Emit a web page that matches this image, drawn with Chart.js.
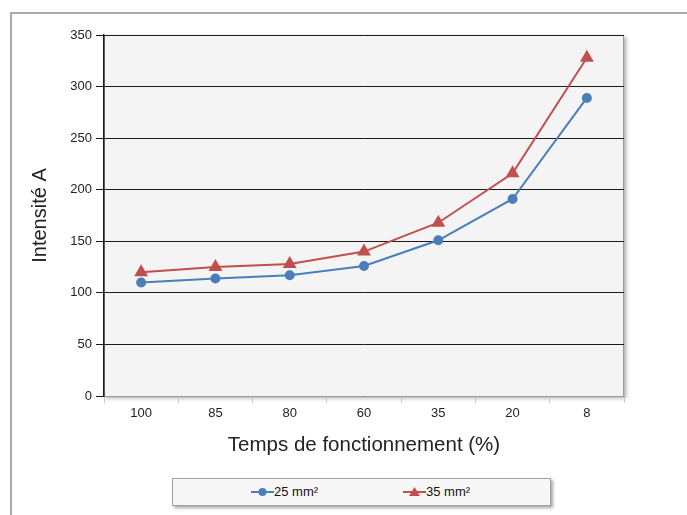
<!DOCTYPE html>
<html>
<head>
<meta charset="utf-8">
<script src="https://cdn.jsdelivr.net/npm/chart.js@4/dist/chart.umd.min.js"></script>
<style>
  html, body { margin: 0; padding: 0; background: #fff; }
  body { width: 687px; height: 515px; position: relative; overflow: hidden;
         font-family: "Liberation Sans", Arial, sans-serif; }
  #frame { position: absolute; left: 10px; top: 12px; width: 700px; height: 520px;
           border-left: 2px solid #a9a9a9; border-top: 2px solid #a9a9a9; }
  #wrap { position: absolute; left: 0; top: 0; width: 687px; height: 462px; }
  #legend { position: absolute; left: 172px; top: 478px; width: 377px; height: 26px;
            border: 1px solid #a0a0a0; background: #f7f7f7;
            box-shadow: 2px 2px 3px rgba(0,0,0,0.35); }
  .item { position: absolute; top: 5px; font-size: 13px; color: #111; line-height: 16px; }
  .item svg { vertical-align: -2px; }
</style>
</head>
<body>
<div id="frame"></div>
<div id="wrap"><canvas id="myChart"></canvas></div>
<div id="legend">
  <span class="item" style="left:78px"><svg width="23" height="12"><line x1="0" y1="6" x2="23" y2="6" stroke="#4a7ebb" stroke-width="2"/><circle cx="11.5" cy="6" r="4" fill="#4a7ebb"/></svg>25 mm²</span>
  <span class="item" style="left:230px"><svg width="23" height="12"><line x1="0" y1="6" x2="23" y2="6" stroke="#c0504d" stroke-width="2"/><polygon points="11.5,1 17,10 6,10" fill="#c0504d"/></svg>35 mm²</span>
</div>
<script>
const categories = ['100', '85', '80', '60', '35', '20', '8'];
const section25 = [110, 114, 117, 126, 151, 191, 289];
const section35 = [120, 125, 128, 140, 168, 216, 328];

// grey plot area with a soft shadow, like the spreadsheet original
const plotBackground = {
    id: 'plotBackground',
    beforeDraw(chart) {
        const { ctx, chartArea: a } = chart;
        ctx.save();
        ctx.shadowColor = 'rgba(0,0,0,0.35)';
        ctx.shadowBlur = 4;
        ctx.shadowOffsetX = 2;
        ctx.shadowOffsetY = 2;
        ctx.fillStyle = '#f4f4f4';
        ctx.fillRect(a.left, a.top, a.right - a.left, a.bottom - a.top);
        ctx.restore();
        ctx.save();
        ctx.strokeStyle = '#9a9a9a';
        ctx.lineWidth = 1;
        ctx.strokeRect(a.left + 0.5, a.top + 0.5, a.right - a.left - 1, a.bottom - a.top);
        ctx.restore();
    }
};

function setup() {
    const ctx = document.getElementById('myChart').getContext('2d');
    new Chart(ctx, {
        type: 'line',
        data: {
            labels: categories,
            datasets: [
                {
                    label: '25 mm²',
                    data: section25,
                    borderColor: '#4a7ebb',
                    backgroundColor: '#4a7ebb',
                    borderWidth: 2,
                    pointStyle: 'circle',
                    pointRadius: 4,
                    tension: 0
                },
                {
                    label: '35 mm²',
                    data: section35,
                    borderColor: '#c0504d',
                    backgroundColor: '#c0504d',
                    borderWidth: 2,
                    pointStyle: 'triangle',
                    pointRadius: 6,
                    tension: 0
                }
            ]
        },
        options: {
            responsive: true,
            maintainAspectRatio: false,
            animation: false,
            layout: { padding: { left: 24, right: 63, top: 35, bottom: 0 } },
            plugins: { legend: { display: false }, tooltip: { enabled: false } },
            scales: {
                x: {
                    offset: true,
                    afterFit(scale) { scale.height = 66; },
                    grid: { offset: true, drawOnChartArea: false, tickLength: 7, color: '#c8c8c8' },
                    border: { color: '#9a9a9a' },
                    ticks: { color: '#222', padding: 3, font: { family: 'Liberation Sans', size: 13 } },
                    title: { display: true, text: 'Temps de fonctionnement (%)', color: '#222',
                             font: { family: 'Liberation Sans', size: 20.5 } }
                },
                y: {
                    min: 0,
                    max: 350,
                    afterFit(scale) { scale.width = 80; },
                    ticks: { stepSize: 50, color: '#222', padding: 4, font: { family: 'Liberation Sans', size: 13 } },
                    grid: { color: '#1a1a1a', tickLength: 8, lineWidth: 1 },
                    border: { color: '#1a1a1a', width: 1.5 },
                    title: { display: true, text: 'Intensité A', color: '#222',
                             font: { family: 'Liberation Sans', size: 20 } }
                }
            }
        },
        plugins: [plotBackground]
    });
}
setup();
</script>
</body>
</html>
